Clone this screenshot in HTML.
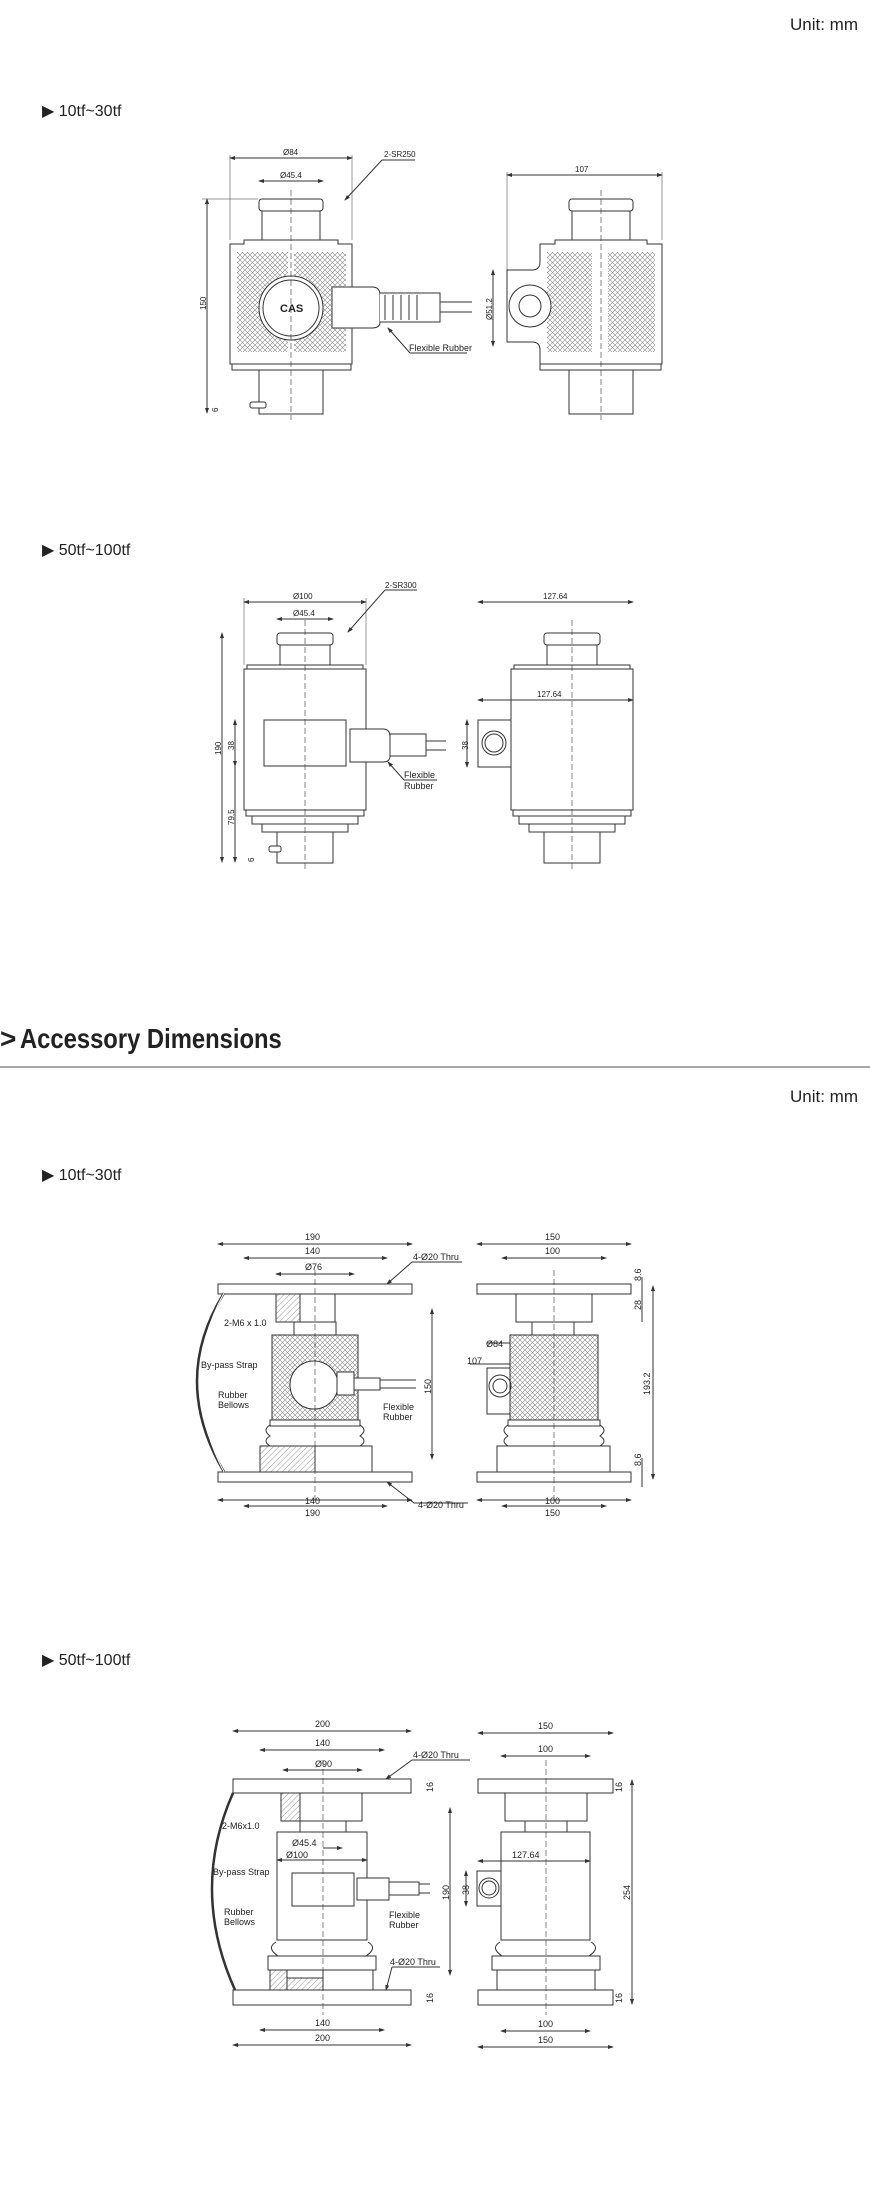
<!DOCTYPE html>
<html><head><meta charset="utf-8"><style>
html,body{margin:0;padding:0;background:#fff;}
body{width:870px;height:2188px;overflow:hidden;}
svg{display:block;}
text{font-family:"Liberation Sans",sans-serif;fill:#222;}
</style></head><body>
<svg width="870" height="2188" viewBox="0 0 870 2188" xmlns="http://www.w3.org/2000/svg">
<defs>
<pattern id="x" width="5" height="5" patternUnits="userSpaceOnUse"><path d="M0 0L5 5M5 0L0 5" stroke="#888" stroke-width="0.6"/></pattern>
<pattern id="h" width="4" height="4" patternUnits="userSpaceOnUse" patternTransform="rotate(45)"><path d="M0 0V4" stroke="#666" stroke-width="0.7"/></pattern>
<marker id="a" markerWidth="6" markerHeight="6" refX="5" refY="3" orient="auto-start-reverse"><path d="M0 1L6 3L0 5z" fill="#333"/></marker>
</defs>
<g font-size="16" >
<text x="790" y="30" font-size="17">Unit: mm</text>
<text x="42" y="116" font-size="16" fill="#555">▶ 10tf~30tf</text>
<text x="42" y="555" font-size="16" fill="#555">▶ 50tf~100tf</text>
<text x="0" y="1048" font-size="28" font-weight="bold" fill="#1a4fa0">&gt;</text>
<text x="20" y="1048" font-size="28" font-weight="bold" transform="translate(20 0) scale(0.85 1) translate(-20 0)">Accessory Dimensions</text>
<line x1="0" y1="1067" x2="870" y2="1067" stroke="#888" stroke-width="1.5"/>
<text x="790" y="1102" font-size="17">Unit: mm</text>
<text x="42" y="1180" font-size="16" fill="#555">▶ 10tf~30tf</text>
<text x="42" y="1665" font-size="16" fill="#555">▶ 50tf~100tf</text>
</g>

<g stroke="#333" stroke-width="1" fill="none" font-size="8">
<!-- Drawing 1 left -->
<rect x="259" y="199" width="64" height="12" rx="3" fill="#fff"/>
<rect x="262" y="211" width="58" height="29" fill="#fff"/>
<path d="M244 240H338V244H352V364H230V244H244Z" fill="#fff"/>
<rect x="237" y="252" width="109" height="100" fill="url(#x)" stroke="none"/>
<line x1="291" y1="252" x2="291" y2="352" stroke="#fff" stroke-width="6"/>
<circle cx="291" cy="308" r="32" fill="#fff"/><circle cx="291" cy="308" r="28"/>
<text x="280" y="312" stroke="none" font-size="11" font-weight="bold" fill="#888">CAS</text>
<rect x="232" y="364" width="119" height="6" fill="#fff"/>
<rect x="259" y="370" width="64" height="44" fill="#fff"/>
<rect x="250" y="402" width="16" height="6" rx="2" fill="#fff"/>
<path d="M332 287H372Q380 287 380 295V322Q380 328 372 328H332Z" fill="#fff"/>
<path d="M380 293H440V322H380" fill="#fff"/>
<path d="M385 295V320M393 295V320M401 295V320M409 295V320M417 295V320"/>
<line x1="440" y1="302" x2="472" y2="302"/><line x1="440" y1="312" x2="472" y2="312"/>
<line x1="291" y1="190" x2="291" y2="420" stroke-dasharray="6 3" stroke-width="0.6"/>
<line x1="230" y1="158" x2="352" y2="158" marker-start="url(#a)" marker-end="url(#a)"/>
<line x1="259" y1="181" x2="323" y2="181" marker-start="url(#a)" marker-end="url(#a)"/>
<line x1="230" y1="155" x2="230" y2="240" stroke-width="0.5"/><line x1="352" y1="155" x2="352" y2="240" stroke-width="0.5"/>
<line x1="207" y1="199" x2="207" y2="413" marker-start="url(#a)" marker-end="url(#a)"/>
<line x1="202" y1="199" x2="258" y2="199" stroke-width="0.5"/>
<line x1="345" y1="200" x2="382" y2="160" marker-start="url(#a)"/><line x1="382" y1="160" x2="415" y2="160"/>
<line x1="388" y1="328" x2="410" y2="353" marker-start="url(#a)"/><line x1="410" y1="353" x2="467" y2="353"/>
<g stroke="none" font-size="8"><text x="283" y="155">Ø84</text><text x="280" y="178">Ø45.4</text><text x="384" y="157">2-SR250</text><text x="409" y="351" font-size="9">Flexible Rubber</text>
<text x="206" y="310" transform="rotate(-90 206 310)">150</text><text x="218" y="412" transform="rotate(-90 218 412)">6</text></g>
<!-- Drawing 1 right -->
<rect x="569" y="199" width="64" height="12" rx="3" fill="#fff"/>
<rect x="572" y="211" width="58" height="29" fill="#fff"/>
<path d="M555 240H647V244H662V364H540V350Q540 342 532 342H507V270H532Q540 270 540 262V244H555Z" fill="#fff"/>
<rect x="547" y="252" width="45" height="100" fill="url(#x)" stroke="none"/>
<rect x="608" y="252" width="47" height="100" fill="url(#x)" stroke="none"/>
<circle cx="530" cy="306" r="21" fill="#fff"/><circle cx="530" cy="306" r="11"/>
<rect x="540" y="364" width="121" height="6" fill="#fff"/>
<rect x="569" y="370" width="64" height="44" fill="#fff"/>
<line x1="601" y1="190" x2="601" y2="420" stroke-dasharray="6 3" stroke-width="0.6"/>
<line x1="507" y1="175" x2="662" y2="175" marker-start="url(#a)" marker-end="url(#a)"/>
<line x1="507" y1="172" x2="507" y2="270" stroke-width="0.5"/><line x1="662" y1="172" x2="662" y2="240" stroke-width="0.5"/>
<line x1="493" y1="270" x2="493" y2="346" marker-start="url(#a)" marker-end="url(#a)"/>
<g stroke="none"><text x="575" y="172">107</text><text x="492" y="320" transform="rotate(-90 492 320)">Ø51.2</text></g>

<!-- Drawing 2 left -->
<rect x="277" y="633" width="56" height="12" rx="3" fill="#fff"/>
<rect x="280" y="645" width="50" height="20" fill="#fff"/>
<rect x="247" y="665" width="116" height="4" fill="#fff"/>
<rect x="244" y="669" width="122" height="141" fill="#fff"/>
<rect x="264" y="720" width="82" height="46" fill="#fff"/>
<path d="M350 729H383Q390 729 390 737V756Q390 762 383 762H350Z" fill="#fff"/>
<rect x="390" y="734" width="36" height="22" fill="#fff"/>
<line x1="426" y1="741" x2="446" y2="741"/><line x1="426" y1="750" x2="446" y2="750"/>
<rect x="246" y="810" width="118" height="6" fill="#fff"/>
<rect x="252" y="816" width="106" height="8" fill="#fff"/>
<rect x="262" y="824" width="86" height="8" fill="#fff"/>
<rect x="277" y="832" width="56" height="31" fill="#fff"/>
<rect x="269" y="846" width="12" height="6" rx="2" fill="#fff"/>
<line x1="305" y1="620" x2="305" y2="870" stroke-dasharray="6 3" stroke-width="0.6"/>
<line x1="244" y1="602" x2="366" y2="602" marker-start="url(#a)" marker-end="url(#a)"/>
<line x1="277" y1="619" x2="333" y2="619" marker-start="url(#a)" marker-end="url(#a)"/>
<line x1="244" y1="598" x2="244" y2="665" stroke-width="0.5"/><line x1="366" y1="598" x2="366" y2="665" stroke-width="0.5"/>
<line x1="222" y1="633" x2="222" y2="862" marker-start="url(#a)" marker-end="url(#a)"/>
<line x1="235" y1="720" x2="235" y2="766" marker-start="url(#a)" marker-end="url(#a)"/>
<line x1="235" y1="766" x2="235" y2="862" marker-end="url(#a)"/>
<line x1="348" y1="632" x2="385" y2="590" marker-start="url(#a)"/><line x1="385" y1="590" x2="417" y2="590"/>
<line x1="388" y1="762" x2="404" y2="780" marker-start="url(#a)"/><line x1="404" y1="780" x2="437" y2="780"/>
<g stroke="none"><text x="293" y="599">Ø100</text><text x="293" y="616">Ø45.4</text><text x="385" y="588">2-SR300</text>
<text x="404" y="778" font-size="9">Flexible</text><text x="404" y="789" font-size="9">Rubber</text>
<text x="221" y="755" transform="rotate(-90 221 755)">190</text><text x="234" y="750" transform="rotate(-90 234 750)">38</text><text x="234" y="825" transform="rotate(-90 234 825)">79.5</text><text x="254" y="862" transform="rotate(-90 254 862)">6</text></g>
<!-- Drawing 2 right -->
<rect x="544" y="633" width="56" height="12" rx="3" fill="#fff"/>
<rect x="547" y="645" width="50" height="20" fill="#fff"/>
<rect x="514" y="665" width="116" height="4" fill="#fff"/>
<rect x="511" y="669" width="122" height="141" fill="#fff"/>
<rect x="478" y="720" width="33" height="47" fill="#fff"/>
<circle cx="494" cy="743" r="12"/><circle cx="494" cy="743" r="9"/>
<rect x="513" y="810" width="118" height="6" fill="#fff"/>
<rect x="519" y="816" width="106" height="8" fill="#fff"/>
<rect x="529" y="824" width="86" height="8" fill="#fff"/>
<rect x="544" y="832" width="56" height="31" fill="#fff"/>
<line x1="572" y1="620" x2="572" y2="870" stroke-dasharray="6 3" stroke-width="0.6"/>
<line x1="478" y1="602" x2="633" y2="602" marker-start="url(#a)" marker-end="url(#a)"/>
<line x1="478" y1="700" x2="633" y2="700" marker-start="url(#a)" marker-end="url(#a)"/>
<line x1="467" y1="720" x2="467" y2="767" marker-start="url(#a)" marker-end="url(#a)"/>
<g stroke="none"><text x="543" y="599">127.64</text><text x="537" y="697">127.64</text><text x="468" y="750" transform="rotate(-90 468 750)">38</text></g>

<!-- Drawing 3 left -->
<rect x="218" y="1284" width="194" height="10" fill="#fff"/>
<rect x="276" y="1294" width="59" height="28" fill="url(#h)"/>
<rect x="300" y="1294" width="35" height="28" fill="#fff"/>
<rect x="294" y="1322" width="42" height="13" fill="#fff"/>
<rect x="272" y="1335" width="86" height="85" fill="url(#x)"/>
<circle cx="314" cy="1385" r="24" fill="#fff"/>
<path d="M337 1372H354V1395H337Z" fill="#fff"/>
<rect x="354" y="1378" width="26" height="12" fill="#fff"/>
<line x1="380" y1="1380" x2="416" y2="1380"/><line x1="380" y1="1388" x2="416" y2="1388"/>
<path d="M270 1425Q262 1430 270 1436Q262 1441 270 1446M360 1425Q368 1430 360 1436Q368 1441 360 1446"/>
<rect x="270" y="1420" width="90" height="6" fill="#fff"/>
<rect x="260" y="1446" width="112" height="26" fill="url(#h)"/>
<rect x="315" y="1446" width="57" height="26" fill="#fff"/>
<rect x="218" y="1472" width="194" height="10" fill="#fff"/>
<path d="M224 1293Q170 1380 224 1472" stroke-width="2.5"/>
<path d="M224 1293Q176 1380 224 1472" stroke="#fff" stroke-width="1"/>
<line x1="315" y1="1270" x2="315" y2="1500" stroke-dasharray="6 3" stroke-width="0.6"/>
<line x1="218" y1="1244" x2="412" y2="1244" marker-start="url(#a)" marker-end="url(#a)"/>
<line x1="244" y1="1258" x2="387" y2="1258" marker-start="url(#a)" marker-end="url(#a)"/>
<line x1="276" y1="1274" x2="354" y2="1274" marker-start="url(#a)" marker-end="url(#a)"/>
<line x1="218" y1="1500" x2="412" y2="1500" marker-start="url(#a)" marker-end="url(#a)"/>
<line x1="244" y1="1506" x2="387" y2="1506" marker-start="url(#a)" marker-end="url(#a)"/>
<line x1="432" y1="1309" x2="432" y2="1459" marker-start="url(#a)" marker-end="url(#a)"/>
<line x1="387" y1="1284" x2="412" y2="1262" marker-start="url(#a)"/><line x1="412" y1="1262" x2="462" y2="1262"/>
<line x1="387" y1="1482" x2="414" y2="1503" marker-start="url(#a)"/><line x1="414" y1="1503" x2="468" y2="1503"/>
<g stroke="none" font-size="9"><text x="305" y="1240">190</text><text x="305" y="1254">140</text><text x="305" y="1270">Ø76</text>
<text x="413" y="1260">4-Ø20 Thru</text><text x="418" y="1508">4-Ø20 Thru</text>
<text x="224" y="1326">2-M6 x 1.0</text><text x="201" y="1368">By-pass Strap</text><text x="218" y="1398">Rubber</text><text x="218" y="1408">Bellows</text>
<text x="383" y="1410">Flexible</text><text x="383" y="1420">Rubber</text>
<text x="305" y="1504">140</text><text x="305" y="1516">190</text>
<text x="431" y="1394" transform="rotate(-90 431 1394)">150</text></g>
<!-- Drawing 3 right -->
<rect x="477" y="1284" width="154" height="10" fill="#fff"/>
<rect x="516" y="1294" width="76" height="28" fill="#fff"/>
<rect x="532" y="1322" width="42" height="13" fill="#fff"/>
<path d="M510 1335H598V1420H510V1414H487V1368H510Z" fill="#fff"/>
<rect x="510" y="1335" width="88" height="85" fill="url(#x)"/>
<circle cx="500" cy="1386" r="11"/><circle cx="500" cy="1386" r="7"/>
<path d="M508 1425Q500 1430 508 1436Q500 1441 508 1446M600 1425Q608 1430 600 1436Q608 1441 600 1446"/>
<rect x="508" y="1420" width="92" height="6" fill="#fff"/>
<rect x="497" y="1446" width="113" height="26" fill="#fff"/>
<rect x="477" y="1472" width="154" height="10" fill="#fff"/>
<line x1="554" y1="1270" x2="554" y2="1500" stroke-dasharray="6 3" stroke-width="0.6"/>
<line x1="477" y1="1244" x2="631" y2="1244" marker-start="url(#a)" marker-end="url(#a)"/>
<line x1="502" y1="1258" x2="606" y2="1258" marker-start="url(#a)" marker-end="url(#a)"/>
<line x1="477" y1="1500" x2="631" y2="1500" marker-start="url(#a)" marker-end="url(#a)"/>
<line x1="502" y1="1506" x2="606" y2="1506" marker-start="url(#a)" marker-end="url(#a)"/>
<line x1="653" y1="1286" x2="653" y2="1479" marker-start="url(#a)" marker-end="url(#a)"/>
<line x1="642" y1="1277" x2="642" y2="1322"/><line x1="642" y1="1458" x2="642" y2="1487"/>
<line x1="487" y1="1343" x2="510" y2="1343"/><line x1="470" y1="1364" x2="510" y2="1364"/>
<g stroke="none" font-size="9"><text x="545" y="1240">150</text><text x="545" y="1254">100</text><text x="486" y="1347">Ø84</text><text x="467" y="1364">107</text>
<text x="545" y="1504">100</text><text x="545" y="1516">150</text>
<text x="650" y="1395" transform="rotate(-90 650 1395)">193.2</text><text x="641" y="1281" transform="rotate(-90 641 1281)">8.6</text><text x="641" y="1310" transform="rotate(-90 641 1310)">28</text><text x="641" y="1466" transform="rotate(-90 641 1466)">8.6</text></g>

<!-- Drawing 4 left -->
<rect x="233" y="1779" width="178" height="14" fill="#fff"/>
<rect x="281" y="1793" width="42" height="28" fill="url(#h)"/>
<rect x="300" y="1793" width="62" height="28" fill="#fff"/>
<rect x="300" y="1821" width="46" height="11" fill="#fff"/>
<rect x="277" y="1832" width="90" height="108" fill="#fff"/>
<rect x="292" y="1873" width="62" height="33" fill="#fff"/>
<rect x="357" y="1878" width="32" height="22" fill="#fff"/>
<rect x="389" y="1882" width="30" height="13" fill="#fff"/>
<line x1="419" y1="1884" x2="430" y2="1884"/><line x1="419" y1="1893" x2="430" y2="1893"/>
<path d="M276 1942Q266 1948 278 1956M368 1942Q378 1948 366 1956"/>
<rect x="268" y="1956" width="108" height="14" fill="#fff"/>
<rect x="270" y="1970" width="17" height="20" fill="url(#h)"/>
<rect x="287" y="1970" width="36" height="20" fill="#fff"/>
<rect x="287" y="1978" width="36" height="12" fill="url(#h)"/>
<rect x="323" y="1970" width="50" height="20" fill="#fff"/>
<rect x="233" y="1990" width="178" height="15" fill="#fff"/>
<path d="M233 1793Q190 1890 235 1990" stroke-width="2.5"/>
<line x1="323" y1="1760" x2="323" y2="2015" stroke-dasharray="6 3" stroke-width="0.6"/>
<line x1="233" y1="1731" x2="411" y2="1731" marker-start="url(#a)" marker-end="url(#a)"/>
<line x1="260" y1="1750" x2="384" y2="1750" marker-start="url(#a)" marker-end="url(#a)"/>
<line x1="283" y1="1770" x2="362" y2="1770" marker-start="url(#a)" marker-end="url(#a)"/>
<line x1="233" y1="2045" x2="411" y2="2045" marker-start="url(#a)" marker-end="url(#a)"/>
<line x1="260" y1="2030" x2="384" y2="2030" marker-start="url(#a)" marker-end="url(#a)"/>
<line x1="450" y1="1808" x2="450" y2="1975" marker-start="url(#a)" marker-end="url(#a)"/>
<line x1="323" y1="1848" x2="342" y2="1848" marker-end="url(#a)"/>
<line x1="277" y1="1860" x2="367" y2="1860" marker-start="url(#a)" marker-end="url(#a)"/>
<line x1="386" y1="1779" x2="412" y2="1760" marker-start="url(#a)"/><line x1="412" y1="1760" x2="470" y2="1760"/>
<line x1="386" y1="1990" x2="392" y2="1967" marker-start="url(#a)"/><line x1="392" y1="1967" x2="440" y2="1967"/>
<g stroke="none" font-size="9"><text x="315" y="1727">200</text><text x="315" y="1746">140</text><text x="315" y="1767">Ø90</text>
<text x="413" y="1758">4-Ø20 Thru</text><text x="390" y="1965">4-Ø20 Thru</text>
<text x="222" y="1829">2-M6x1.0</text><text x="213" y="1875">By-pass Strap</text><text x="224" y="1915">Rubber</text><text x="224" y="1925">Bellows</text>
<text x="292" y="1846">Ø45.4</text><text x="286" y="1858">Ø100</text>
<text x="389" y="1918">Flexible</text><text x="389" y="1928">Rubber</text>
<text x="315" y="2026">140</text><text x="315" y="2041">200</text>
<text x="449" y="1900" transform="rotate(-90 449 1900)">190</text><text x="433" y="1792" transform="rotate(-90 433 1792)">16</text><text x="433" y="2003" transform="rotate(-90 433 2003)">16</text></g>
<!-- Drawing 4 right -->
<rect x="478" y="1779" width="135" height="14" fill="#fff"/>
<rect x="505" y="1793" width="82" height="28" fill="#fff"/>
<rect x="525" y="1821" width="42" height="11" fill="#fff"/>
<rect x="501" y="1832" width="89" height="108" fill="#fff"/>
<rect x="477" y="1871" width="24" height="35" fill="#fff"/>
<circle cx="489" cy="1888" r="10"/><circle cx="489" cy="1888" r="7"/>
<path d="M500 1942Q490 1948 502 1956M591 1942Q601 1948 589 1956"/>
<rect x="492" y="1956" width="108" height="14" fill="#fff"/>
<rect x="497" y="1970" width="98" height="20" fill="#fff"/>
<rect x="478" y="1990" width="135" height="15" fill="#fff"/>
<line x1="546" y1="1760" x2="546" y2="2015" stroke-dasharray="6 3" stroke-width="0.6"/>
<line x1="478" y1="1733" x2="613" y2="1733" marker-start="url(#a)" marker-end="url(#a)"/>
<line x1="501" y1="1756" x2="590" y2="1756" marker-start="url(#a)" marker-end="url(#a)"/>
<line x1="501" y1="2031" x2="590" y2="2031" marker-start="url(#a)" marker-end="url(#a)"/>
<line x1="478" y1="2047" x2="613" y2="2047" marker-start="url(#a)" marker-end="url(#a)"/>
<line x1="478" y1="1861" x2="590" y2="1861" marker-start="url(#a)" marker-end="url(#a)"/>
<line x1="466" y1="1871" x2="466" y2="1906" marker-start="url(#a)" marker-end="url(#a)"/>
<line x1="632" y1="1780" x2="632" y2="2004" marker-start="url(#a)" marker-end="url(#a)"/>
<g stroke="none" font-size="9"><text x="538" y="1729">150</text><text x="538" y="1752">100</text><text x="512" y="1858">127.64</text>
<text x="538" y="2027">100</text><text x="538" y="2043">150</text>
<text x="469" y="1895" transform="rotate(-90 469 1895)">38</text><text x="630" y="1900" transform="rotate(-90 630 1900)">254</text>
<text x="622" y="1792" transform="rotate(-90 622 1792)">16</text><text x="622" y="2003" transform="rotate(-90 622 2003)">16</text></g>
</g>
</svg>
</body></html>
